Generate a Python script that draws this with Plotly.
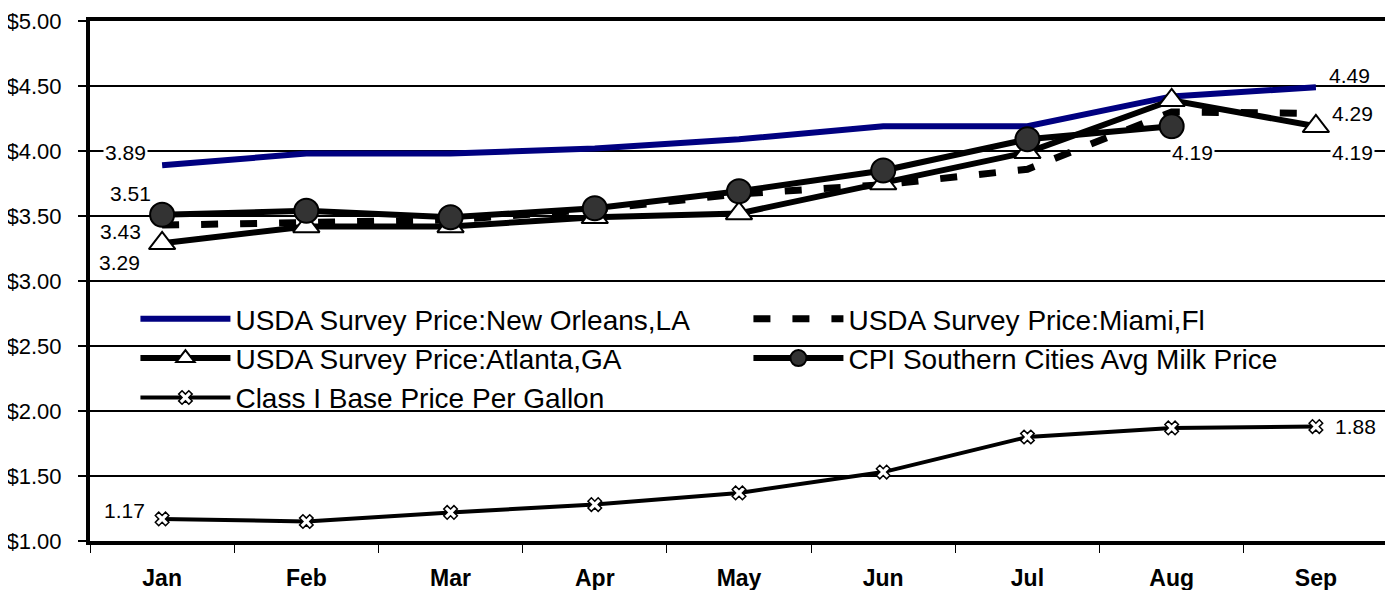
import plotly.graph_objects as go

months = ["Jan", "Feb", "Mar", "Apr", "May", "Jun", "Jul", "Aug", "Sep"]
new_orleans = [3.89, 3.98, 3.98, 4.02, 4.09, 4.19, 4.19, 4.42, 4.49]
miami = [3.43, 3.45, 3.47, 3.55, 3.67, 3.74, 3.86, 4.30, 4.29]
atlanta = [3.29, 3.42, 3.42, 3.49, 3.52, 3.75, 3.99, 4.39, 4.19]
cpi = [3.51, 3.54, 3.49, 3.56, 3.69, 3.85, 4.09, 4.19]
class1 = [1.17, 1.15, 1.22, 1.28, 1.37, 1.53, 1.80, 1.87, 1.88]

y_ticks = [1.0, 1.5, 2.0, 2.5, 3.0, 3.5, 4.0, 4.5, 5.0]

FONT = "Liberation Sans, Arial, sans-serif"

fig = go.Figure()
fig.add_trace(go.Scatter(x=months, y=new_orleans, mode="lines",
                         name="USDA Survey Price:New Orleans,LA",
                         line=dict(color="#000080", width=6)))
fig.add_trace(go.Scatter(x=months, y=miami, mode="lines",
                         name="USDA Survey Price:Miami,Fl",
                         line=dict(color="black", width=7, dash="17px,22px")))
fig.add_trace(go.Scatter(x=months, y=atlanta, mode="lines+markers",
                         name="USDA Survey Price:Atlanta,GA",
                         line=dict(color="black", width=6),
                         marker=dict(symbol="triangle-up", size=23, color="white",
                                     line=dict(color="black", width=2))))
fig.add_trace(go.Scatter(x=months[:len(cpi)], y=cpi, mode="lines+markers",
                         name="CPI Southern Cities Avg Milk Price",
                         line=dict(color="black", width=6),
                         marker=dict(symbol="circle", size=24, color="#333333",
                                     line=dict(color="black", width=2))))
fig.add_trace(go.Scatter(x=months, y=class1, mode="lines+markers",
                         name="Class I Base Price Per Gallon",
                         line=dict(color="black", width=4),
                         marker=dict(symbol="x", size=12, color="white",
                                     line=dict(color="black", width=1.5))))

labels = [
    ("Jan", new_orleans[0], -37, 13, True),
    ("Jan", cpi[0], -32, 21, False),
    ("Jan", miami[0], -42, -6, False),
    ("Jan", atlanta[0], -43, -19, False),
    ("Jan", class1[0], -38, 8, False),
    ("Sep", new_orleans[-1], 34, 12, False),
    ("Sep", miami[-1], 37, 0, False),
    ("Sep", atlanta[-1], 37, -26, True),
    ("Aug", cpi[-1], 21, -26, True),
    ("Sep", class1[-1], 40, 0, False),
]
for x, y, dx, dy, bg in labels:
    fig.add_annotation(x=x, y=y, text=f"{y:.2f}", showarrow=False,
                       xshift=dx, yshift=dy,
                       font=dict(family=FONT, size=21, color="black"),
                       bgcolor="white" if bg else "rgba(0,0,0,0)", borderpad=1)

# white panel behind the legend (covers gridlines like the original)
fig.add_shape(type="rect", xref="paper", yref="paper",
              x0=0.0177, x1=0.9715, y0=0.262, y1=0.478,
              fillcolor="white", line=dict(width=0), layer="between")

# page body adds an 8px offset, so the figure is 8px smaller than the window
fig.update_layout(
    width=1385, height=582,
    margin=dict(l=82, r=5, t=13, b=49, autoexpand=False),
    paper_bgcolor="white", plot_bgcolor="white",
    font=dict(family=FONT, color="black"),
    showlegend=True,
    legend=dict(orientation="h", x=0.035, y=0.475, xanchor="left", yanchor="top",
                bgcolor="rgba(0,0,0,0)", borderwidth=0,
                itemwidth=90,
                entrywidth=508, entrywidthmode="pixels",
                font=dict(family=FONT, size=28, color="black"),
                traceorder="normal"),
)
fig.update_xaxes(type="category", categoryorder="array", categoryarray=months,
                 range=[-0.5, len(months) - 0.5], autorange=False,
                 automargin=False,
                 showline=True, linecolor="black", linewidth=4, mirror=True,
                 ticks="outside", tickson="boundaries", ticklen=8, tickwidth=1,
                 tickcolor="black", showgrid=False,
                 tickfont=dict(family=FONT, size=23, color="black", weight="bold"),
                 ticklabelstandoff=13)
fig.update_yaxes(range=[1, 5], tickvals=y_ticks, tickformat="$.2f",
                 automargin=False,
                 showline=True, linecolor="black", linewidth=4, mirror="ticks",
                 ticks="outside", ticklen=8, tickwidth=1.5, tickcolor="black",
                 showgrid=True, gridcolor="black", gridwidth=1.8,
                 zeroline=False,
                 tickfont=dict(family=FONT, size=22, color="black"),
                 ticklabelstandoff=12)

fig.write_html("out.html")
